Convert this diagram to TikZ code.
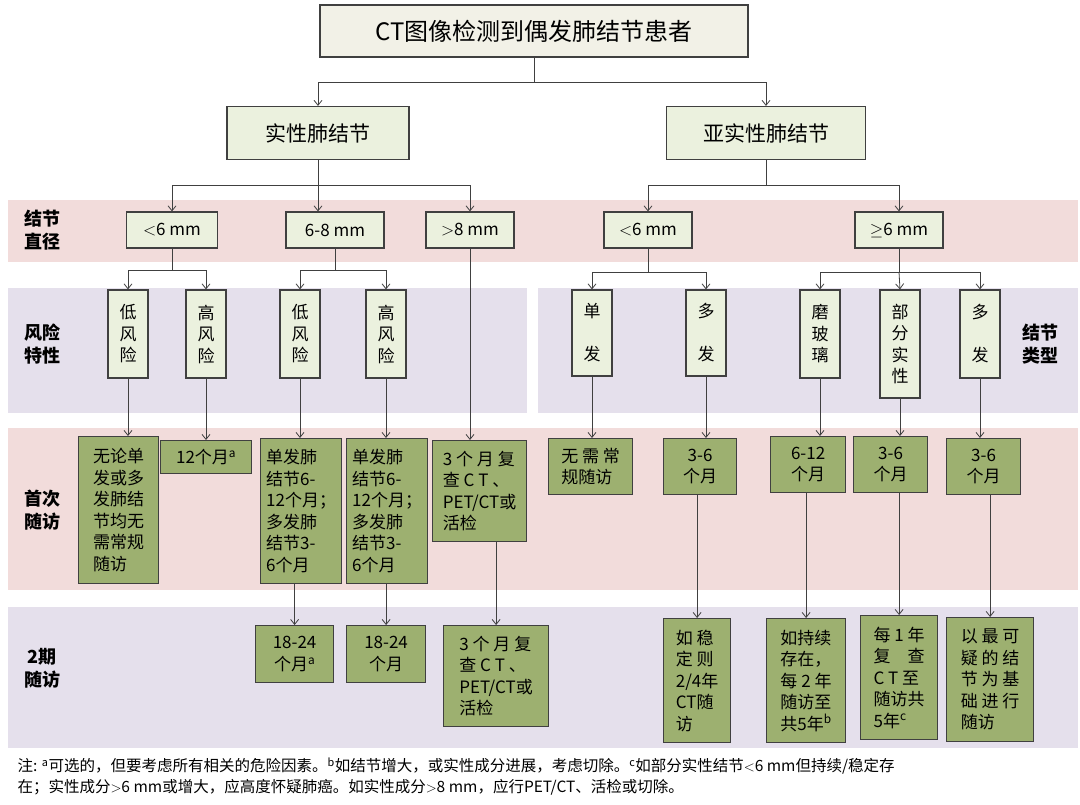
\documentclass[tikz,border=0pt]{standalone}
\usepackage{fontspec}
\setmainfont{Noto Sans CJK SC}
\usetikzlibrary{arrows.meta}
\definecolor{titlefill}{RGB}{242,241,231}
\definecolor{typefill}{RGB}{235,241,222}
\definecolor{stepfill}{RGB}{157,176,112}
\definecolor{pinkband}{RGB}{242,220,219}
\definecolor{purpleband}{RGB}{229,224,236}
\definecolor{linegray}{RGB}{64,64,64}
\tikzstyle{block} = [draw=linegray, line width=1.2pt, rectangle, inner sep=3pt, font=\fontsize{17}{21.5}\selectfont]
\tikzstyle{typebox} = [block, fill=typefill]
\tikzstyle{stepbox} = [block, fill=stepfill, align=left, anchor=north west]
\tikzstyle{bandtag} = [align=center, font=\fontsize{18}{23}\selectfont\bfseries]
\tikzstyle{link} = [draw=linegray, line width=0.8pt]
\tikzstyle{arr} = [link, -{Straight Barb[length=5pt,width=8pt]}]
\begin{document}
\begin{tikzpicture}[x=1pt,y=-1pt]
\useasboundingbox (0,0) rectangle (1080,804);
%% Bands %%
\fill[pinkband] (8,200) rectangle (1078,262);
\fill[purpleband] (8,288) rectangle (527,413);
\fill[purpleband] (538,288) rectangle (1078,413);
\fill[pinkband] (8,428) rectangle (1078,590);
\fill[purpleband] (8,607) rectangle (1078,748);
\node [bandtag] (TagSize) at (42,230) {结节\\直径};
\node [bandtag] (TagRisk) at (42,344) {风险\\特性};
\node [bandtag] (TagType) at (1040,344) {结节\\类型};
\node [bandtag] (TagFirst) at (42,510) {首次\\随访};
\node [bandtag] (TagSecond) at (42,668) {2期\\随访};

%% Top %%
\node [block, fill=titlefill, minimum width=428pt, minimum height=52pt, font=\fontsize{24}{28}\selectfont] (Title) at (534,31) {CT图像检测到偶发肺结节患者};
\node [typebox, minimum width=182pt, minimum height=53pt, font=\fontsize{21}{25}\selectfont] (Solid) at (318,133) {实性肺结节};
\node [typebox, minimum width=199pt, minimum height=53pt, font=\fontsize{21}{25}\selectfont] (SubSolid) at (766,133) {亚实性肺结节};

%% Diameter %%
\node [typebox, minimum width=91pt, minimum height=36pt] (SLess) at (172,230) {$<$6 mm};
\node [typebox, minimum width=98pt, minimum height=36pt] (SMid) at (335,230) {6-8 mm};
\node [typebox, minimum width=88pt, minimum height=36pt] (SMore) at (470,230) {$>$8 mm};
\node [typebox, minimum width=88pt, minimum height=36pt] (PLess) at (648,230) {$<$6 mm};
\node [typebox, minimum width=88pt, minimum height=36pt] (PMore) at (899,230) {$\geq$6 mm};

%% Risk / type %%
\node [typebox, minimum width=40pt, minimum height=88pt, align=center] (LowA) at (128,334) {低\\风\\险};
\node [typebox, minimum width=40pt, minimum height=88pt, align=center] (HighA) at (206,334) {高\\风\\险};
\node [typebox, minimum width=40pt, minimum height=88pt, align=center] (LowB) at (300,334) {低\\风\\险};
\node [typebox, minimum width=40pt, minimum height=88pt, align=center] (HighB) at (386,334) {高\\风\\险};
\node [typebox, minimum width=40pt, minimum height=86pt, align=center] (Single) at (592,333) {单\\\\发};
\node [typebox, minimum width=40pt, minimum height=86pt, align=center] (Multi) at (706,333) {多\\\\发};
\node [typebox, minimum width=40pt, minimum height=88pt, align=center] (Glass) at (820,334) {磨\\玻\\璃};
\node [typebox, minimum width=40pt, minimum height=108pt, align=center] (Part) at (900,344) {部\\分\\实\\性};
\node [typebox, minimum width=40pt, minimum height=88pt, align=center] (MultiB) at (980,334) {多\\\\发};

%% First follow-up %%
\node [stepbox, minimum width=80pt, minimum height=147pt] (F1) at (78,436) {无论单\\发或多\\发肺结\\节均无\\需常规\\随访};
\node [stepbox, minimum width=91pt, minimum height=33pt, align=center] (F2) at (160,440) {12个月\textsuperscript{a}};
\node [stepbox, minimum width=81pt, minimum height=145pt] (F3) at (260,438) {单发肺\\结节6-\\12个月；\\多发肺\\结节3-\\6个月};
\node [stepbox, minimum width=81pt, minimum height=145pt] (F4) at (346,438) {单发肺\\结节6-\\12个月；\\多发肺\\结节3-\\6个月};
\node [stepbox, minimum width=94pt, minimum height=101pt] (F5) at (432,440) {3 个 月 复\\查 C T 、\\PET/CT或\\活检};
\node [stepbox, minimum width=84pt, minimum height=56pt] (F6) at (548,438) {无 需 常\\规随访};
\node [stepbox, minimum width=73pt, minimum height=56pt, align=center] (F7) at (663,438) {3-6\\个月};
\node [stepbox, minimum width=75pt, minimum height=56pt, align=center] (F8) at (770,436) {6-12\\个月};
\node [stepbox, minimum width=74pt, minimum height=56pt, align=center] (F9) at (853,436) {3-6\\个月};
\node [stepbox, minimum width=74pt, minimum height=56pt, align=center] (F10) at (946,438) {3-6\\个月};

%% Second follow-up %%
\node [stepbox, minimum width=78pt, minimum height=57pt, align=center] (S1) at (255,625) {18-24\\个月\textsuperscript{a}};
\node [stepbox, minimum width=79pt, minimum height=57pt, align=center] (S2) at (346,625) {18-24\\个月};
\node [stepbox, minimum width=105pt, minimum height=101pt] (S3) at (443,625) {3 个 月 复\\查 C T 、\\PET/CT或\\活检};
\node [stepbox, minimum width=67pt, minimum height=124pt] (S4) at (663,618) {如 稳\\定 则\\2/4年\\CT随\\访};
\node [stepbox, minimum width=79pt, minimum height=124pt] (S5) at (766,618) {如持续\\存在，\\每 2 年\\随访至\\共5年\textsuperscript{b}};
\node [stepbox, minimum width=77pt, minimum height=124pt] (S6) at (860,615) {每 1 年\\复　查\\C T 至\\随访共\\5年\textsuperscript{c}};
\node [stepbox, minimum width=87pt, minimum height=124pt] (S7) at (946,617) {以 最 可\\疑 的 结\\节 为 基\\础 进 行\\随访};

%% Note %%
\node [anchor=north west, align=left, font=\fontsize{15.5}{21}\selectfont] (Note) at (14,754) {注: \textsuperscript{a}可选的，但要考虑所有相关的危险因素。\textsuperscript{b}如结节增大，或实性成分进展，考虑切除。\textsuperscript{c}如部分实性结节$<$6 mm但持续/稳定存\\在；实性成分$>$6 mm或增大，应高度怀疑肺癌。如实性成分$>$8 mm，应行PET/CT、活检或切除。};

%% Connectors %%
\coordinate (TopFork) at (534,82);
\draw[link] (Title.south) -- (TopFork);
\draw[arr] (TopFork) -| (Solid.north);
\draw[arr] (TopFork) -| (SubSolid.north);
\coordinate (SolidFork) at (318,185);
\draw[link] (Solid.south) -- (SolidFork);
\draw[arr] (SolidFork) -| (SLess.north);
\draw[arr] (SolidFork) -- (SMid.north -| SolidFork);
\draw[arr] (SolidFork) -| (SMore.north);
\coordinate (SubFork) at (766,185);
\draw[link] (SubSolid.south) -- (SubFork);
\draw[arr] (SubFork) -| (PLess.north);
\draw[arr] (SubFork) -| (PMore.north);
\coordinate (LessFork) at (172,270);
\draw[link] (SLess.south) -- (LessFork);
\draw[arr] (LessFork) -| (LowA.north);
\draw[arr] (LessFork) -| (HighA.north);
\coordinate (MidFork) at (335,270);
\draw[link] (SMid.south) -- (MidFork);
\draw[arr] (MidFork) -| (LowB.north);
\draw[arr] (MidFork) -| (HighB.north);
\coordinate (PLessFork) at (648,272);
\draw[link] (PLess.south) -- (PLessFork);
\draw[arr] (PLessFork) -| (Single.north);
\draw[arr] (PLessFork) -| (Multi.north);
\coordinate (PMoreFork) at (899,272);
\draw[link] (PMore.south) -- (PMoreFork);
\draw[arr] (PMoreFork) -| (Glass.north);
\draw[arr] (PMoreFork) -- (Part.north);
\draw[arr] (PMoreFork) -| (MultiB.north);
\draw[arr] (LowA.south) -- (LowA.south |- F1.north);
\draw[arr] (HighA.south) -- (HighA.south |- F2.north);
\draw[arr] (LowB.south) -- (LowB.south |- F3.north);
\draw[arr] (HighB.south) -- (HighB.south |- F4.north);
\draw[arr] (SMore.south) -- (SMore.south |- F5.north);
\draw[arr] (Single.south) -- (Single.south |- F6.north);
\draw[arr] (Multi.south) -- (Multi.south |- F7.north);
\draw[arr] (Glass.south) -- (Glass.south |- F8.north);
\draw[arr] (Part.south) -- (Part.south |- F9.north);
\draw[arr] (MultiB.south) -- (MultiB.south |- F10.north);
\draw[arr] (F3.south -| S1.north) -- (S1.north);
\draw[arr] (F4.south -| S2.north) -- (S2.north);
\draw[arr] (F5.south -| S3.north) -- (S3.north);
\draw[arr] (F7.south -| S4.north) -- (S4.north);
\draw[arr] (F8.south -| S5.north) -- (S5.north);
\draw[arr] (F9.south -| S6.north) -- (S6.north);
\draw[arr] (F10.south -| S7.north) -- (S7.north);
\end{tikzpicture}
\end{document}
